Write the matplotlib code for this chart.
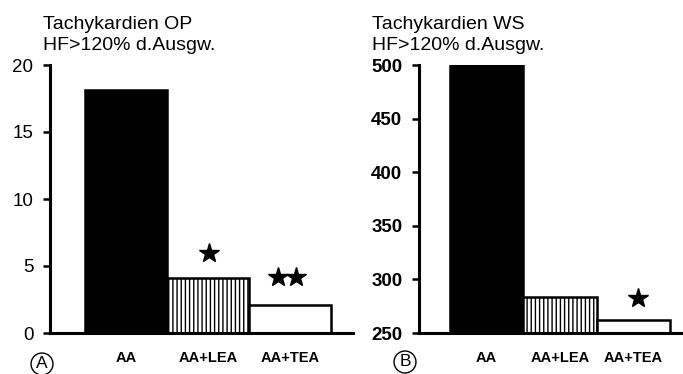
import matplotlib
matplotlib.use("Agg")
import matplotlib.pyplot as plt

plt.rcParams['font.family'] = ['Liberation Sans', 'DejaVu Sans']
plt.rcParams['hatch.linewidth'] = 1.0

categories = ["AA", "AA+LEA", "AA+TEA"]
op_values = [18.1, 4.1, 2.1]
ws_values = [500, 284, 262]
op_ticks = [0, 5, 10, 15, 20]
ws_ticks = [250, 300, 350, 400, 450, 500]
title_op = ["Tachykardien OP", "HF>120% d.Ausgw."]
title_ws = ["Tachykardien WS", "HF>120% d.Ausgw."]

W, H = 683, 374
fig = plt.figure(figsize=(W / 100, H / 100), dpi=100)

def frac(x0, x1, y0, y1):
    return [x0 / W, (H - y1) / H, (x1 - x0) / W, (y1 - y0) / H]

ax1 = fig.add_axes(frac(50, 353, 65, 333))
ax2 = fig.add_axes(frac(419, 683, 65, 333))

faces = ['black', 'white', 'white']
hatches = [None, '||||', None]

def draw(ax, vals, base, ticks, xlim, tick_weight):
    x = list(range(len(vals)))
    for i, v in enumerate(vals):
        ax.bar(x[i], v - base, bottom=base, width=1.0, color=faces[i],
               edgecolor='black', linewidth=1.8, hatch=hatches[i], zorder=2)
    ax.set_xlim(*xlim)
    ax.set_ylim(base, ticks[-1])
    ax.set_yticks(ticks)
    ax.set_yticklabels([str(t) for t in ticks], fontsize=13.5, fontweight=tick_weight)
    ax.set_xticks(x)
    ax.set_xticklabels(categories, fontsize=10.5, fontweight='bold')
    ax.tick_params(axis='x', length=0, pad=13)
    ax.tick_params(axis='y', length=5, width=1.8, pad=7)
    for s in ['top', 'right']:
        ax.spines[s].set_visible(False)
    for s in ['left', 'bottom']:
        ax.spines[s].set_linewidth(2.2)
        ax.spines[s].set_zorder(3)

draw(ax1, op_values, 0, op_ticks, (-0.927, 2.768), 'normal')
draw(ax2, ws_values, 250, ws_ticks, (-0.923, 2.677), 'bold')

# significance stars
ax1.plot([1.012], [5.97], marker='*', color='black', markersize=15, clip_on=False, zorder=4)
ax1.plot([1.853, 2.073], [4.2, 4.2], marker='*', color='black', markersize=15,
         linestyle='none', clip_on=False, zorder=4)
ax2.plot([2.065], [282.6], marker='*', color='black', markersize=15, clip_on=False, zorder=4)

# titles
for x0, lines in [(43, title_op), (372, title_ws)]:
    fig.text(x0 / W, 1 - 29 / H, lines[0], fontsize=14, va='baseline', ha='left')
    fig.text(x0 / W, 1 - 50 / H, lines[1], fontsize=14, va='baseline', ha='left')

# panel labels
circ = dict(boxstyle='circle,pad=0.2', facecolor='white', edgecolor='black', linewidth=1.0)
fig.text(42 / W, 1 - 364 / H, "A", fontsize=12.5, ha='center', va='center', bbox=circ)
fig.text(405 / W, 1 - 362 / H, "B", fontsize=12.5, ha='center', va='center', bbox=circ)

fig.savefig("out.png", dpi=100)
